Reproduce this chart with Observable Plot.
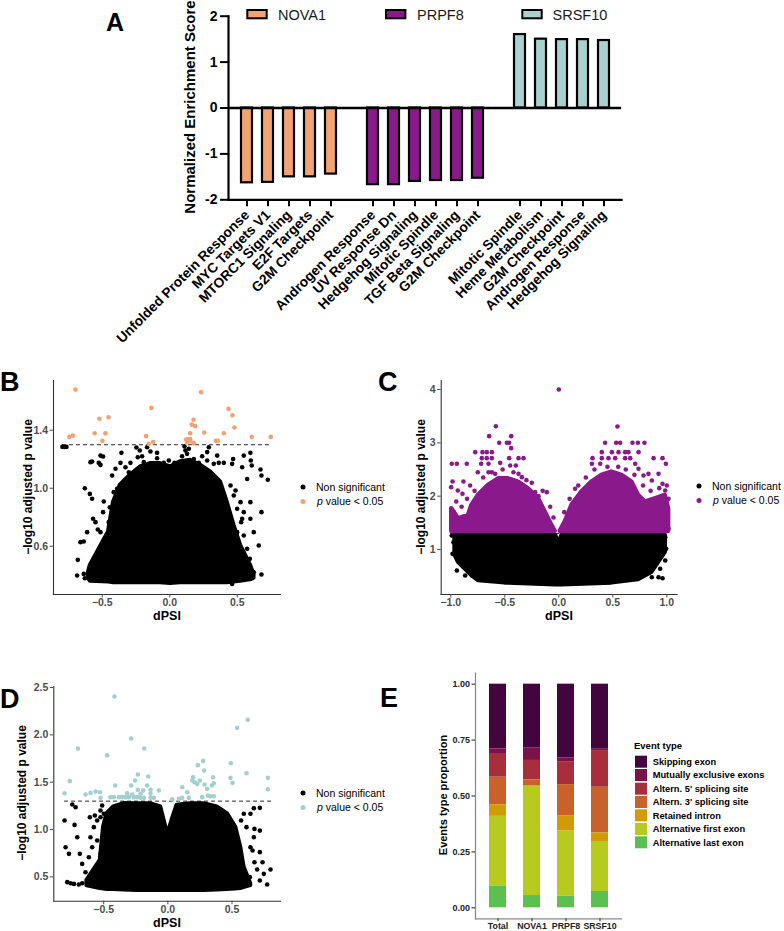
<!DOCTYPE html>
<html>
<head>
<meta charset="utf-8">
<script src="https://cdn.jsdelivr.net/npm/d3@7"></script>
<script src="https://cdn.jsdelivr.net/npm/@observablehq/plot@0.6"></script>
<style>
  body { margin: 0; background: #fff; }
  #fig { position: relative; width: 784px; height: 931px; overflow: hidden; background: #fff;
         font-family: "Liberation Sans", Arial, sans-serif; }
  #fig > svg, #fig > figure { position: absolute; margin: 0; }
</style>
</head>
<body>
<div id="fig"></div>
<script>
// ---------------- Panel A data ----------------
const termsNOVA1 = ["Unfolded Protein Response", "MYC Targets V1", "MTORC1 Signaling", "E2F Targets", "G2M Checkpoint"];
const nesNOVA1 = [-1.63, -1.62, -1.50, -1.50, -1.44];
const termsPRPF8 = ["Androgen Response", "UV Response Dn", "Hedgehog Signaling", "Mitotic Spindle", "TGF Beta Signaling", "G2M Checkpoint"];
const nesPRPF8 = [-1.67, -1.67, -1.60, -1.58, -1.58, -1.53];
const termsSRSF10 = ["Mitotic Spindle", "Heme Metabolism", "G2M Checkpoint", "Androgen Response", "Hedgehog Signaling"];
const nesSRSF10 = [1.60, 1.50, 1.49, 1.49, 1.47];
const factorsA = ["NOVA1", "PRPF8", "SRSF10"];
const factorColorsA = ["#F3A272", "#8A1A8C", "#A9D1CF"];
const yTicksA = [-2, -1, 0, 1, 2];

// ---------------- Panel B data (NOVA1) ----------------
const bSigPoints = [[-0.699,1.681],[0.232,1.662],[-0.136,1.554],[0.435,1.547],[-0.521,1.479],[-0.454,1.490],[0.464,1.503],[0.176,1.472],[0.163,1.439],[0.188,1.428],[0.479,1.419],[-0.743,1.354],[-0.718,1.363],[-0.556,1.379],[-0.476,1.379],[0.255,1.384],[0.400,1.379],[0.151,1.379],[-0.175,1.359],[0.607,1.354],[0.748,1.354],[-0.499,1.327],[0.121,1.336],[0.136,1.340],[0.151,1.340],[0.341,1.327],[0.356,1.327],[-0.156,1.306],[-0.123,1.318],[0.178,1.311],[0.128,1.318],[0.153,1.325]];
const bNonSigPoints = [[-0.795,1.285],[-0.780,1.285],[-0.765,1.285],[-0.513,1.225],[-0.494,1.219],[-0.358,1.244],[-0.222,1.260],[-0.205,1.221],[-0.168,1.283],[0.116,1.260],[0.128,1.237],[0.240,1.221],[0.289,1.283],[0.548,1.225],[0.597,1.244],[0.600,1.191],[0.607,1.157],[0.536,1.145],[-0.587,1.180],[-0.575,1.184],[-0.526,1.175],[-0.513,1.161],[-0.365,1.175],[-0.291,1.175],[0.400,1.175],[0.462,1.168],[0.573,1.064],[0.672,1.129],[0.679,1.088],[0.726,1.058],[-0.629,1.000],[-0.592,0.961],[-0.575,0.927],[-0.489,0.908],[-0.568,0.789],[-0.550,0.766],[-0.533,0.715],[-0.513,0.697],[-0.494,0.835],[-0.637,0.633],[-0.661,0.628],[-0.612,0.697],[-0.681,0.506],[-0.686,0.398],[-0.637,0.409],[-0.629,0.379],[-0.585,0.432],[0.597,0.904],[0.524,0.904],[0.548,0.835],[0.597,0.789],[0.679,0.835],[0.659,0.605],[0.679,0.405],[0.462,0.340],[0.593,0.513],[0.622,0.697],[0.529,0.766],[0.487,0.984],[-0.237,1.214],[-0.192,1.180],[-0.094,1.207],[-0.044,1.175],[-0.007,1.191],[0.035,1.175],[0.091,1.221],[0.178,1.202],[0.215,1.175],[0.277,1.191],[0.326,1.168],[0.363,1.175],[-0.328,1.145],[-0.303,1.110],[-0.143,1.253],[-0.094,1.244],[-0.247,1.281],[0.109,1.288],[0.141,1.272],[0.277,1.249],[0.351,1.225],[0.469,1.202],[-0.427,1.088],[-0.402,1.134],[-0.427,0.812],[-0.452,0.766],[-0.415,0.720],[-0.476,0.628],[-0.439,0.582],[-0.464,0.524],[-0.415,0.973],[-0.390,0.996],[-0.444,0.869],[-0.513,0.490],[-0.538,0.444],[0.450,1.019],[0.474,0.950],[0.499,0.858],[0.536,0.789],[0.499,0.697],[0.548,0.674],[0.573,0.582],[0.536,0.490],[0.573,0.398],[0.622,0.421]];
// dense non-significant cloud: [dPSI, lower edge, upper edge]
const bCloud = [[-0.600,0.38,0.42],[-0.587,0.36,0.467],[-0.452,0.355,0.697],[-0.415,0.35,0.903],[-0.365,0.35,1.019],[-0.291,0.35,1.088],[-0.217,0.35,1.145],[-0.143,0.35,1.168],[-0.069,0.35,1.168],[0.005,0.345,1.145],[0.079,0.35,1.180],[0.153,0.35,1.191],[0.227,0.35,1.157],[0.301,0.35,1.111],[0.375,0.35,1.042],[0.424,0.35,0.903],[0.474,0.355,0.743],[0.523,0.36,0.605],[0.597,0.37,0.467],[0.622,0.38,0.40]];
const bThreshold = [{y: 1.3, x1: -0.795, x2: 0.748}];

// ---------------- Panel C data (PRPF8) ----------------
const cSigPoints = [[0.0,4.0],[-0.583,3.313],[-0.645,3.126],[-0.441,3.126],[-0.552,3.001],[-0.481,3.001],[-0.460,3.001],[-0.774,2.826],[-0.707,2.826],[-0.667,2.826],[-0.620,2.826],[-0.713,2.713],[-0.667,2.713],[-0.620,2.713],[-0.441,2.901],[-0.373,2.713],[-0.327,2.713],[-0.460,2.713],[-0.991,2.607],[-0.944,2.607],[-0.852,2.607],[-0.719,2.607],[-0.651,2.607],[-0.543,2.625],[-0.450,2.575],[-0.398,2.575],[-0.750,2.450],[-0.651,2.450],[-0.589,2.419],[-0.373,2.419],[-0.342,2.357],[-0.984,2.275],[-0.883,2.275],[-0.997,2.169],[-0.821,2.200],[-0.219,2.075],[-0.111,2.075],[-0.188,2.000],[-0.892,2.044],[-0.935,2.106],[-0.883,1.481],[-0.898,1.418],[-0.821,1.512],[-0.991,1.575],[-0.975,1.700],[0.543,3.307],[0.429,3.001],[0.531,3.001],[0.568,3.001],[0.682,3.001],[0.732,3.001],[0.793,3.001],[0.312,2.713],[0.398,2.826],[0.491,2.826],[0.553,2.826],[0.614,2.826],[0.645,2.826],[0.398,2.713],[0.460,2.713],[0.522,2.713],[0.614,2.713],[0.661,2.713],[0.738,2.826],[0.877,2.713],[0.960,2.713],[0.991,2.607],[0.306,2.607],[0.383,2.607],[0.707,2.607],[0.738,2.513],[0.784,2.388],[0.830,2.419],[0.923,2.419],[0.960,2.231],[0.985,2.106],[1.016,1.950],[0.151,2.138],[0.861,2.294],[0.938,1.825],[0.985,1.575],[1.016,1.387],[0.830,1.512],[0.908,1.575],[-0.95,1.90],[-0.90,1.80],[-0.85,1.95],[-0.78,2.10],[-0.70,2.35],[-0.62,2.45],[-0.52,2.50],[-0.42,2.45],[-0.30,2.30],[-0.25,2.25],[-0.15,2.10],[-0.08,1.80],[-0.05,1.60],[0.05,1.70],[0.10,1.95],[0.18,2.20],[0.25,2.35],[0.33,2.50],[0.45,2.55],[0.55,2.55],[0.62,2.50],[0.70,2.40],[0.78,2.20],[0.85,2.10],[0.93,2.15],[1.00,2.20],[0.97,1.60],[1.01,1.50]];
const cSigCloudLeft = [[-0.991,1.34,1.762],[-0.929,1.34,1.575],[-0.836,1.34,1.637],[-0.805,1.34,1.825],[-0.744,1.34,2.013],[-0.651,1.34,2.200],[-0.558,1.34,2.325],[-0.466,1.34,2.325],[-0.373,1.34,2.263],[-0.281,1.34,2.138],[-0.188,1.34,1.950],[-0.126,1.34,1.700],[-0.065,1.34,1.450],[-0.034,1.34,1.34]];
const cSigCloudRight = [[0.013,1.34,1.34],[0.059,1.34,1.512],[0.121,1.34,1.825],[0.213,1.34,2.075],[0.306,1.34,2.263],[0.398,1.34,2.388],[0.491,1.34,2.450],[0.584,1.34,2.388],[0.676,1.34,2.263],[0.738,1.34,2.013],[0.800,1.34,1.888],[0.892,1.34,1.950],[0.985,1.34,2.013],[1.016,1.34,1.762]];
const cNonSigPoints = [[-0.991,1.262],[-0.975,1.137],[-0.984,0.918],[-0.929,1.012],[-0.898,0.856],[-0.883,0.731],[-0.944,0.606],[-0.836,0.668],[-0.805,0.512],[-0.867,0.512],[0.861,0.480],[0.923,0.480],[0.960,0.461],[0.938,0.637],[0.985,0.793],[0.994,1.012],[0.985,1.231],[0.954,1.262],[0.908,0.762],[0.830,0.574]];
const cCloud = [[-0.960,0.90,1.26],[-0.929,0.762,1.26],[-0.805,0.512,1.26],[-0.744,0.418,1.26],[-0.497,0.374,1.26],[-0.03,0.34,1.26],[0.0,0.337,1.10],[0.03,0.34,1.26],[0.491,0.374,1.26],[0.738,0.437,1.26],[0.861,0.574,1.26],[0.985,0.949,1.26]];
const cThreshold = [{y: 1.3, x1: -1.0, x2: 1.0}];

// ---------------- Panel D data (SRSF10) ----------------
const dSigPoints = [[-0.416,2.405],[0.623,2.159],[0.540,2.074],[-0.286,1.961],[-0.701,1.856],[-0.184,1.856],[-0.473,1.785],[0.275,1.725],[0.234,1.680],[0.491,1.701],[0.613,1.595],[0.283,1.623],[-0.234,1.581],[-0.153,1.560],[0.197,1.553],[-0.764,1.511],[0.488,1.546],[0.504,1.493],[0.779,1.546],[-0.805,1.384],[0.779,1.426],[-0.410,1.465],[-0.255,1.518],[-0.286,1.465],[-0.234,1.419],[-0.192,1.412],[-0.161,1.465],[-0.135,1.419],[-0.070,1.412],[-0.317,1.384],[-0.278,1.370],[0.190,1.518],[0.208,1.500],[0.229,1.482],[0.249,1.518],[0.286,1.475],[0.306,1.430],[0.353,1.553],[0.343,1.465],[0.358,1.489],[-0.642,1.370],[-0.603,1.387],[-0.564,1.401],[-0.530,1.394],[0.112,1.447],[0.151,1.394],[0.312,1.359],[0.358,1.352],[-0.447,1.342],[-0.421,1.342],[-0.382,1.342],[-0.356,1.342],[-0.330,1.342],[-0.304,1.342],[-0.265,1.342],[-0.239,1.342],[-0.213,1.335],[-0.187,1.335],[-0.135,1.335],[-0.109,1.335],[-0.525,1.335],[0.034,1.320],[0.086,1.324],[0.112,1.335],[0.164,1.335],[0.268,1.342],[0.332,1.352],[-0.135,1.377],[-0.213,1.377]];
const dNonSigPoints = [[-0.745,1.264],[-0.719,1.236],[-0.805,1.095],[-0.727,1.049],[-0.797,0.813],[-0.706,0.919],[-0.771,0.743],[-0.686,0.743],[-0.668,0.637],[-0.784,0.444],[-0.758,0.433],[-0.732,0.426],[-0.694,0.419],[-0.668,0.433],[-0.642,0.549],[-0.603,0.919],[-0.577,1.025],[-0.551,1.095],[-0.525,1.130],[-0.608,1.130],[-0.569,1.148],[-0.512,1.254],[-0.525,1.201],[0.670,1.225],[0.717,1.229],[0.644,1.166],[0.592,1.166],[0.571,1.095],[0.613,1.025],[0.675,1.007],[0.717,0.989],[0.670,0.919],[0.644,0.813],[0.660,0.778],[0.717,0.761],[0.675,0.655],[0.738,0.655],[0.696,0.578],[0.800,0.578],[0.748,0.532],[0.774,0.419],[0.639,0.497],[0.717,0.461],[-0.590,0.813],[-0.551,0.884],[-0.616,0.708],[-0.564,0.602],[-0.525,0.743],[-0.499,1.166]];
const dCloud = [[-0.629,0.41,0.461],[-0.525,0.38,0.673],[-0.499,0.375,1.025],[-0.473,0.37,1.166],[-0.421,0.37,1.236],[-0.343,0.365,1.271],[-0.239,0.36,1.27],[-0.135,0.36,1.27],[-0.057,0.36,1.236],[-0.018,0.36,1.025],[0.008,0.36,0.972],[0.034,0.36,1.095],[0.073,0.36,1.254],[0.177,0.36,1.27],[0.281,0.36,1.27],[0.384,0.365,1.236],[0.462,0.37,1.166],[0.527,0.375,1.025],[0.566,0.38,0.813],[0.592,0.39,0.602],[0.644,0.41,0.426]];
const dThreshold = [{y: 1.3, x1: -0.805, x2: 0.81}];

// ---------------- Panel E data ----------------
const eSamples = ["Total", "NOVA1", "PRPF8", "SRSF10"];
const eTypes = ["Skipping exon", "Mutually exclusive exons", "Altern. 5' splicing site", "Altern. 3' splicing site", "Retained intron", "Alternative first exon", "Alternative last exon"];
const eColors = ["#43053E", "#7B1249", "#A72F3B", "#C8612A", "#D29A05", "#B7CB1F", "#5BBF52"];
const skippingExon = [0.289, 0.284, 0.329, 0.291];
const mutuallyExclusive = [0.021, 0.057, 0.020, 0.006];
const altern5 = [0.106, 0.087, 0.100, 0.164];
const altern3 = [0.123, 0.028, 0.141, 0.204];
const retainedIntron = [0.052, 0.000, 0.067, 0.042];
const altFirstExon = [0.313, 0.489, 0.291, 0.220];
const altLastExon = [0.096, 0.055, 0.052, 0.073];

// ---------------- build ----------------
const FONT = "Liberation Sans, Arial, sans-serif";
const fig = document.getElementById("fig");
const toXY = a => a.map(([x, y]) => ({x, y}));
const toEnv = a => a.map(([x, lo, hi]) => ({x, lo, hi}));
function place(node, left, top) { node.style.left = left + "px"; node.style.top = top + "px"; fig.appendChild(node); }

// Panel A
const keyOf = (g, t) => g + "|" + t;
const dataA = [
  ...termsNOVA1.map((t, i) => ({key: keyOf("NOVA1", t), term: t, group: "NOVA1", nes: nesNOVA1[i]})),
  ...termsPRPF8.map((t, i) => ({key: keyOf("PRPF8", t), term: t, group: "PRPF8", nes: nesPRPF8[i]})),
  ...termsSRSF10.map((t, i) => ({key: keyOf("SRSF10", t), term: t, group: "SRSF10", nes: nesSRSF10[i]}))
];
const keysA = dataA.map(d => d.key);
const domainA = [...dataA.slice(0, 5).map(d => d.key), "gap1", ...dataA.slice(5, 11).map(d => d.key), "gap2", ...dataA.slice(11).map(d => d.key)];
const plotA = Plot.plot({
  width: 784, height: 350,
  marginLeft: 228, marginRight: 162.9, marginTop: 15.7, marginBottom: 150.7,
  style: {fontFamily: FONT, color: "#000", background: "transparent"},
  x: {type: "band", domain: domainA, paddingInner: 0.5, paddingOuter: 0.35, axis: null},
  y: {domain: [-2, 2], axis: null},
  color: {domain: factorsA, range: factorColorsA},
  marks: [
    Plot.barY(dataA, {x: "key", y: "nes", fill: "group"}),
    Plot.barY(dataA, {x: "key", y: "nes", fill: "none", stroke: "#000", strokeWidth: 2.2}),
    Plot.ruleY([0], {strokeWidth: 2.5}),
    Plot.frame({anchor: "left", strokeWidth: 2.2}),
    Plot.frame({anchor: "bottom", strokeWidth: 2.2}),
    Plot.axisY({ticks: yTicksA, tickFormat: d => String(d), tickSize: 8, tickPadding: 3, strokeWidth: 2, fontSize: 14, fontWeight: "bold", label: null}),
    Plot.axisX({ticks: keysA, tickFormat: k => k.split("|")[1], tickRotate: -45, tickSize: 7, tickPadding: 6, strokeWidth: 2, fontSize: 13.8, fontWeight: "bold", label: null})
  ]
});
place(plotA, 0, 0);

// volcano panels
function volcano({xDomain, yDomain, xTicks, yTicks, cloud, sigClouds, nonSig, sig, thr, color, width, height, ml, mr, mt, mb}) {
  const marks = [
    Plot.ruleY(thr, {y: "y", x1: "x1", x2: "x2", stroke: "#111", strokeWidth: 0.9, strokeDasharray: "4,3"}),
    Plot.areaY(toEnv(cloud), {x: "x", y1: "lo", y2: "hi", fill: "black", stroke: "black", strokeWidth: 4.6, strokeLinejoin: "round"}),
    Plot.dot(toXY(nonSig), {x: "x", y: "y", r: 2.3, fill: "black"})
  ];
  for (const c of sigClouds) marks.push(Plot.areaY(toEnv(c), {x: "x", y1: "lo", y2: "hi", fill: color, stroke: color, strokeWidth: 4.6, strokeLinejoin: "round"}));
  marks.push(
    Plot.dot(toXY(sig), {x: "x", y: "y", r: 2.3, fill: color}),
    Plot.frame({anchor: "left", stroke: "#333", strokeWidth: 1.1}),
    Plot.frame({anchor: "bottom", stroke: "#333", strokeWidth: 1.1}),
    Plot.axisX({ticks: xTicks, tickFormat: d3.format(".1f"), tickSize: 3.5, tickPadding: 1, fontSize: 10.5, fontWeight: "bold", color: "#4d4d4d", label: null}),
    Plot.axisY({ticks: yTicks, tickFormat: yTicks.every(Number.isInteger) ? d3.format("d") : d3.format(".1f"), tickSize: 3.5, tickPadding: 2, fontSize: 10.5, fontWeight: "bold", color: "#4d4d4d", label: null})
  );
  return Plot.plot({
    width, height, marginLeft: ml, marginRight: mr, marginTop: mt, marginBottom: mb,
    style: {fontFamily: FONT, background: "transparent"},
    x: {domain: xDomain, axis: null},
    y: {domain: yDomain, axis: null},
    marks
  });
}
place(volcano({xDomain: [-0.861, 0.82], yDomain: [0.267, 1.743], xTicks: [-0.5, 0, 0.5], yTicks: [0.6, 1.0, 1.4],
  cloud: bCloud, sigClouds: [], nonSig: bNonSigPoints, sig: bSigPoints, thr: bThreshold, color: "#F4A070",
  width: 300, height: 270, ml: 53, mr: 20, mt: 20, mb: 36}), 0, 360);
place(volcano({xDomain: [-1.089, 1.096], yDomain: [0.155, 4.170], xTicks: [-1, -0.5, 0, 0.5, 1], yTicks: [1, 2, 3, 4],
  cloud: cCloud, sigClouds: [cSigCloudLeft, cSigCloudRight], nonSig: cNonSigPoints, sig: cSigPoints, thr: cThreshold, color: "#8A1A8C",
  width: 394, height: 270, ml: 50.7, mr: 107.3, mt: 20, mb: 36}), 390, 360);
place(volcano({xDomain: [-0.889, 0.878], yDomain: [0.243, 2.511], xTicks: [-0.5, 0, 0.5], yTicks: [0.5, 1.0, 1.5, 2.0, 2.5],
  cloud: dCloud, sigClouds: [], nonSig: dNonSigPoints, sig: dSigPoints, thr: dThreshold, color: "#A3CFCF",
  width: 300, height: 261, ml: 53.3, mr: 20, mt: 16, mb: 30.3}), 0, 670);

// Panel E
const eSeries = [skippingExon, mutuallyExclusive, altern5, altern3, retainedIntron, altFirstExon, altLastExon];
const eData = [];
eTypes.forEach((t, i) => eSamples.forEach((s, j) => eData.push({sample: s, type: t, prop: eSeries[i][j]})));
const plotE = Plot.plot({
  width: 394, height: 270, marginLeft: 85, marginRight: 163, marginTop: 12.7, marginBottom: 11.7,
  style: {fontFamily: FONT, background: "transparent"},
  x: {type: "band", domain: eSamples, paddingInner: 0.5, paddingOuter: 0.35, axis: null},
  y: {domain: [-0.049, 1.049], axis: null},
  color: {domain: eTypes, range: eColors},
  marks: [
    Plot.barY(eData, {x: "sample", y: "prop", fill: "type", order: [...eTypes].reverse()}),
    Plot.frame({anchor: "left", stroke: "#8a8a8a", strokeWidth: 1.3}),
    Plot.frame({anchor: "bottom", stroke: "#8a8a8a", strokeWidth: 1.3}),
    Plot.axisY({ticks: [0, 0.25, 0.5, 0.75, 1], tickFormat: d3.format(".2f"), tickSize: 3.5, tickPadding: 2, fontSize: 9, fontWeight: "bold", color: "#222", label: null}),
    Plot.axisX({tickSize: 3, tickPadding: 1, fontSize: 8.8, fontWeight: "bold", color: "#222", label: null})
  ]
});
place(plotE, 390, 660);

// ---------------- overlay text, titles and legends ----------------
const ov = d3.select(fig).append("svg").attr("width", 784).attr("height", 931)
  .style("left", "0px").style("top", "0px").style("pointer-events", "none")
  .style("font-family", FONT);
function txt(x, y, s, size, opts = {}) {
  const t = ov.append("text").attr("x", x).attr("y", y).attr("font-size", size)
    .attr("font-weight", opts.weight || "normal").attr("fill", opts.fill || "#000")
    .attr("text-anchor", opts.anchor || "start").text(s);
  return t;
}
function vtxt(x, y, s, size, opts = {}) {
  ov.append("text").attr("transform", `translate(${x},${y}) rotate(-90)`).attr("font-size", size)
    .attr("font-weight", opts.weight || "bold").attr("fill", opts.fill || "#000")
    .attr("text-anchor", "middle").text(s);
}
// panel letters
txt(106, 31, "A", 25, {weight: "bold"});
txt(0, 391, "B", 27, {weight: "bold"});
txt(378, 391, "C", 27, {weight: "bold"});
txt(0, 708, "D", 27, {weight: "bold"});
txt(380, 707, "E", 27, {weight: "bold"});

// Panel A title + legend
vtxt(195, 107, "Normalized Enrichment Score", 15);
const legA = [[247.3, 278], [386, 417], [522.3, 552.5]];
factorsA.forEach((f, i) => {
  ov.append("rect").attr("x", legA[i][0]).attr("y", 10).attr("width", 19.4).attr("height", 8.3)
    .attr("fill", factorColorsA[i]).attr("stroke", "#000").attr("stroke-width", 2);
  txt(legA[i][1], 19.5, f, 14.5, {fill: "#1a1a1a"});
});

// volcano titles + legends
function volcLegend(x, y, color) {
  ov.append("circle").attr("cx", x).attr("cy", y).attr("r", 2.5).attr("fill", "#000");
  txt(x + 13, y + 3.8, "Non significant", 10.5);
  ov.append("circle").attr("cx", x).attr("cy", y + 14.5).attr("r", 2.5).attr("fill", color);
  const t = txt(x + 14, y + 18.3, "", 10.5);
  t.append("tspan").text(" ");
  t.append("tspan").attr("font-style", "italic").text("p");
  t.append("tspan").text(" value < 0.05");
}
vtxt(32, 487, "\u2212log10 adjusted p value", 12);
txt(167, 620, "dPSI", 12.5, {weight: "bold", anchor: "middle"});
volcLegend(303, 487, "#F4A070");

vtxt(425, 487, "\u2212log10 adjusted p value", 12);
txt(559, 620, "dPSI", 12.5, {weight: "bold", anchor: "middle"});
volcLegend(699, 486, "#8A1A8C");

vtxt(26, 793, "\u2212log10 adjusted p value", 12);
txt(167, 927, "dPSI", 12.5, {weight: "bold", anchor: "middle"});
volcLegend(303, 793, "#A3CFCF");

// Panel E title + legend
vtxt(447, 795, "Events type proportion", 11);
txt(634, 749, "Event type", 9.5, {weight: "bold"});
const legEY = [761.7, 775, 788.7, 802, 815.3, 829, 842.3];
eTypes.forEach((t, i) => {
  ov.append("rect").attr("x", 635).attr("y", legEY[i] - 6).attr("width", 12).attr("height", 12).attr("fill", eColors[i]);
  txt(652.7, legEY[i] + 3.3, t, 9.3, {weight: "bold"});
});
</script>
</body>
</html>
